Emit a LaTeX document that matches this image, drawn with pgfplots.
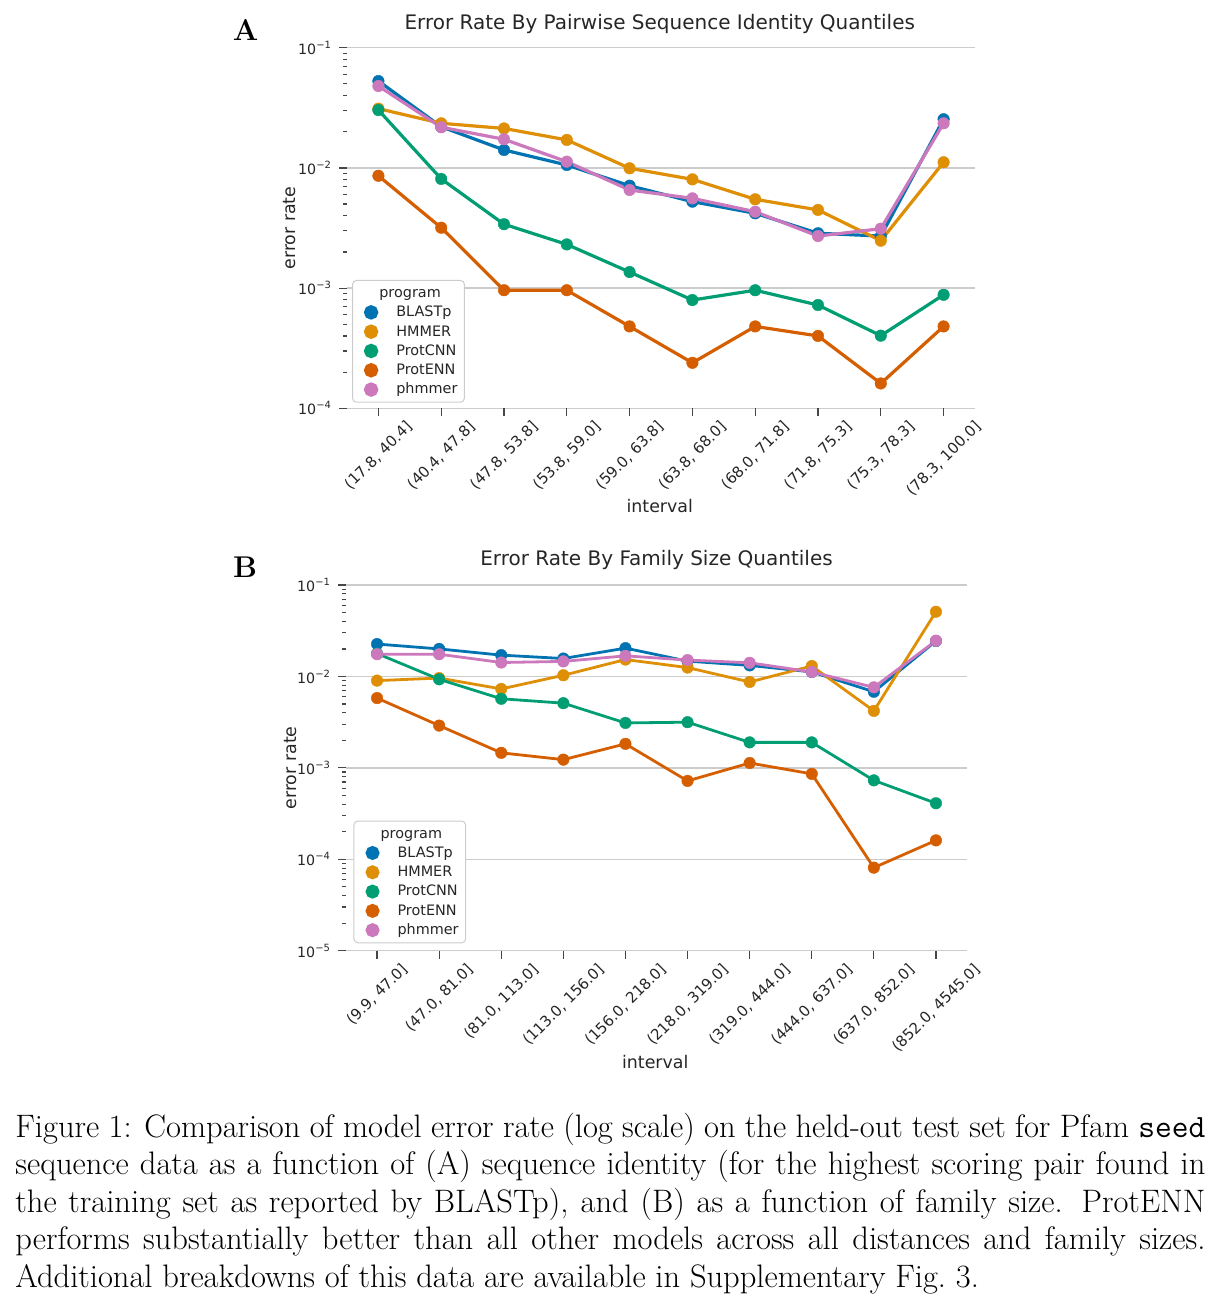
\documentclass[border=0pt]{standalone}
\usepackage{fontspec}
\usepackage{graphicx}
\usepackage{pgfplots}
\pgfplotsset{compat=1.18}
\newfontfamily\dejavu{DejaVu Sans}
\definecolor{cBlast}{HTML}{0173B2}
\definecolor{cHmmer}{HTML}{DE8F05}
\definecolor{cCnn}{HTML}{029E73}
\definecolor{cEnn}{HTML}{D55E00}
\definecolor{cPhm}{HTML}{CC78BC}
\definecolor{gridc}{HTML}{CCCCCC}
\definecolor{txt}{HTML}{262626}
\newcommand{\rl}[1]{\rotatebox{45}{#1}}
\newcommand{\ex}[1]{10\textsuperscript{−#1}}
\pgfplotsset{
  scale only axis,
  xmin=-0.5, xmax=9.5,
  xtick={0,...,9},
  axis lines*=left,
  axis line style={draw=none},
  ymajorgrids, grid style={gridc, line width=0.7pt},
  tick align=outside,
  major tick length=4pt, minor tick length=2pt,
  tick style={color=txt!85, line width=0.6pt},
  ticklabel style={color=txt},
  yticklabel style={font=\dejavu\fontsize{7.1}{8}\selectfont},
  xticklabel style={font=\dejavu\fontsize{7.5}{8}\selectfont, anchor=north, inner sep=1.5pt},
  title style={font=\dejavu\fontsize{10}{12}\selectfont, color=txt, anchor=center},
  label style={font=\dejavu\fontsize{8.7}{10}\selectfont, color=txt},
  every axis plot/.append style={mark=*, mark options={solid, line width=0.2pt}, mark size=2.9pt},
  legend style={
    anchor=north west,
    draw=gridc, line width=0.5pt, rounded corners=2pt, fill=white,
    font=\dejavu\fontsize{7.2}{8}\selectfont, text=txt,
    inner xsep=1.5pt, inner ysep=1.5pt,
    cells={anchor=west},
    nodes={inner xsep=2pt, inner ysep=1pt, text height=6pt, text depth=1.65pt},
    column sep=7pt, row sep=0pt
  },
  legend image code/.code={\path[draw=none,fill=none] (-7.8pt,0pt) -- (2.8pt,0pt); \fill[#1] (0pt,0pt) circle (2.8pt);}
}
\begin{document}
\begin{tikzpicture}[x=1pt,y=1pt]
\path[use as bounding box] (0,0) rectangle (612.5,-650.5);

% Panel A
\begin{axis}[
  ymode=log,
  clip=false,
  at={(173.5pt,-204.15pt)}, anchor=south west,
  width=314pt, height=180.3pt,
  ymin=1e-4, ymax=1e-1,
  ytick={1e-4,1e-3,1e-2,1e-1},
  yticklabels={\ex{4},\ex{3},\ex{2},\ex{1}},
  minor ytick={2e-4,3e-4,4e-4,5e-4,6e-4,7e-4,8e-4,9e-4,2e-3,3e-3,4e-3,5e-3,6e-3,7e-3,8e-3,9e-3,2e-2,3e-2,4e-2,5e-2,6e-2,7e-2,8e-2,9e-2},
  xticklabels={\rl{(17.8, 40.4]},\rl{(40.4, 47.8]},\rl{(47.8, 53.8]},\rl{(53.8, 59.0]},\rl{(59.0, 63.8]},\rl{(63.8, 68.0]},\rl{(68.0, 71.8]},\rl{(71.8, 75.3]},\rl{(75.3, 78.3]},\rl{(78.3, 100.0]}},
  title={Error Rate By Pairwise Sequence Identity Quantiles},
  title style={at={(0.498,1.033)}},
  xlabel={interval}, ylabel={error rate},
  xlabel style={at={(axis description cs:0.498,-0.2715)}, anchor=center},
  ylabel style={at={(axis description cs:-0.0908,0.5)}, anchor=center},
  legend style={at={(0.008,0.356)}},
  every axis plot/.append style={line width=1.6pt},
]
\addlegendimage{empty legend}\addlegendentry{\hspace{-8.5pt}program}
\addplot[cBlast] coordinates {(0,0.0528)(1,0.0220)(2,0.0141)(3,0.01057)(4,0.00711)(5,0.00524)(6,0.00419)(7,0.00286)(8,0.00271)(9,0.0254)};
\addlegendentry{BLASTp}
\addplot[cHmmer] coordinates {(0,0.0311)(1,0.0235)(2,0.0213)(3,0.0171)(4,0.00993)(5,0.00803)(6,0.00548)(7,0.00447)(8,0.00248)(9,0.01114)};
\addlegendentry{HMMER}
\addplot[cCnn] coordinates {(0,0.0303)(1,0.0081)(2,0.0034)(3,0.00231)(4,0.00136)(5,0.000796)(6,0.00096)(7,0.000723)(8,0.000402)(9,0.00088)};
\addlegendentry{ProtCNN}
\addplot[cEnn] coordinates {(0,0.0086)(1,0.00318)(2,0.00096)(3,0.00096)(4,0.00048)(5,0.000239)(6,0.00048)(7,0.0004)(8,0.000161)(9,0.00048)};
\addlegendentry{ProtENN}
\addplot[cPhm] coordinates {(0,0.048)(1,0.0218)(2,0.0173)(3,0.01127)(4,0.00655)(5,0.00558)(6,0.00432)(7,0.00271)(8,0.00312)(9,0.0235)};
\addlegendentry{phmmer}
\end{axis}

% Panel B
\begin{axis}[
  ymode=log,
  clip=false,
  at={(173pt,-475.35pt)}, anchor=south west,
  width=310.5pt, height=182.85pt,
  ymin=1e-5, ymax=1e-1,
  ytick={1e-5,1e-4,1e-3,1e-2,1e-1},
  yticklabels={\ex{5},\ex{4},\ex{3},\ex{2},\ex{1}},
  minor ytick={2e-5,3e-5,4e-5,5e-5,6e-5,7e-5,8e-5,9e-5,2e-4,3e-4,4e-4,5e-4,6e-4,7e-4,8e-4,9e-4,2e-3,3e-3,4e-3,5e-3,6e-3,7e-3,8e-3,9e-3,2e-2,3e-2,4e-2,5e-2,6e-2,7e-2,8e-2,9e-2},
  xticklabels={\rl{(9.9, 47.0]},\rl{(47.0, 81.0]},\rl{(81.0, 113.0]},\rl{(113.0, 156.0]},\rl{(156.0, 218.0]},\rl{(218.0, 319.0]},\rl{(319.0, 444.0]},\rl{(444.0, 637.0]},\rl{(637.0, 852.0]},\rl{(852.0, 4545.0]}},
  title={Error Rate By Family Size Quantiles},
  title style={at={(0.5,1.0355)}},
  xlabel={interval}, ylabel={error rate},
  xlabel style={at={(axis description cs:0.498,-0.304)}, anchor=center},
  ylabel style={at={(axis description cs:-0.0900,0.5)}, anchor=center},
  legend style={at={(0.012,0.356)}},
  every axis plot/.append style={line width=1.4pt},
]
\addlegendimage{empty legend}\addlegendentry{\hspace{-8.5pt}program}
\addplot[cBlast] coordinates {(0,0.0226)(1,0.0200)(2,0.0171)(3,0.0157)(4,0.0204)(5,0.0147)(6,0.0132)(7,0.0112)(8,0.0068)(9,0.0244)};
\addlegendentry{BLASTp}
\addplot[cHmmer] coordinates {(0,0.0090)(1,0.0096)(2,0.0073)(3,0.0103)(4,0.0153)(5,0.0125)(6,0.0087)(7,0.0130)(8,0.0042)(9,0.051)};
\addlegendentry{HMMER}
\addplot[cCnn] coordinates {(0,0.0178)(1,0.0093)(2,0.0057)(3,0.0051)(4,0.0031)(5,0.00316)(6,0.0019)(7,0.0019)(8,0.00073)(9,0.00041)};
\addlegendentry{ProtCNN}
\addplot[cEnn] coordinates {(0,0.0058)(1,0.0029)(2,0.00146)(3,0.00123)(4,0.00183)(5,0.00072)(6,0.00113)(7,0.00086)(8,0.000081)(9,0.000161)};
\addlegendentry{ProtENN}
\addplot[cPhm] coordinates {(0,0.0175)(1,0.0175)(2,0.0142)(3,0.0146)(4,0.0168)(5,0.0151)(6,0.0141)(7,0.0112)(8,0.0076)(9,0.0246)};
\addlegendentry{phmmer}
\end{axis}

\node[font=\fontsize{15}{18}\selectfont\bfseries] at (122.75,-15) {A};
\node[font=\fontsize{15}{18}\selectfont\bfseries] at (122.5,-283.5) {B};

\node[anchor=base west, inner sep=0pt, text width=595pt, align=justify,
      font=\fontsize{16.25}{18.75}\selectfont] at (7.5,-568.5)
{\hyphenpenalty=10000\exhyphenpenalty=10000\tolerance=9999\hbadness=10000\hfuzz=20pt
Figure 1: Comparison of model error rate (log scale) on the held-out test set for Pfam \texttt{seed}\linebreak
sequence data as a function of (A) sequence identity (for the highest scoring pair found in\linebreak
the training set as reported by BLASTp), and (B) as a function of family size. ProtENN\linebreak
performs substantially better than all other models across all distances and family sizes.\linebreak
Additional breakdowns of this data are available in Supplementary Fig.~3.};
\end{tikzpicture}
\end{document}
